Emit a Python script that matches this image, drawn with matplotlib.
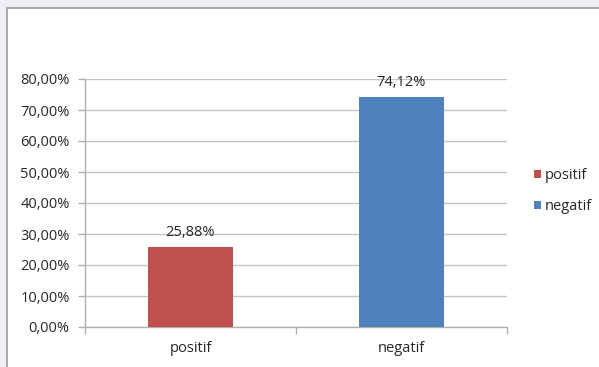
import matplotlib
matplotlib.use('Agg')
import matplotlib.pyplot as plt
from matplotlib.patches import Rectangle

matplotlib.rcParams['font.family'] = 'Open Sans'
matplotlib.rcParams['font.size'] = 10.5

categories = ['positif', 'negatif']
values = [0.2588, 0.7412]
value_labels = ['25,88%', '74,12%']
colors = ['#C0504D', '#4F81BD']
yticks = [0.0, 0.1, 0.2, 0.3, 0.4, 0.5, 0.6, 0.7, 0.8]
ytick_labels = ['0,00%', '10,00%', '20,00%', '30,00%', '40,00%',
                '50,00%', '60,00%', '70,00%', '80,00%']

W, H = 599, 367
fig = plt.figure(figsize=(W / 100, H / 100), dpi=100, facecolor='#eef0f3')

# white chart area with gray frame
fig.patches.append(Rectangle((6.5 / W, -0.05), 1.1, 1 - 7.5 / H + 0.05,
                             transform=fig.transFigure, facecolor='white',
                             edgecolor='#9a9a9a', linewidth=1.2, zorder=-5))

ax = fig.add_axes([85 / W, 1 - 327 / H, 422 / W, 248 / H])
ax.set_zorder(2)
ax.set_facecolor('none')

x = [0, 1]
bars = ax.bar(x, values, width=0.4, color=colors, zorder=3)
ax.set_xlim(-0.5, 1.5)
ax.set_ylim(0, 0.8)

ax.set_yticks(yticks)
ax.set_yticklabels(ytick_labels)
ax.set_xticks(x)
ax.set_xticklabels(categories)
ax.set_xticks([-0.5, 0.5, 1.5], minor=True)

ax.yaxis.grid(True, color='#c4c4c4', linewidth=1, zorder=0)
ax.tick_params(axis='y', length=5, width=1, color='#b0b0b0', pad=6, labelcolor='#262626')
ax.tick_params(axis='x', which='major', length=0, pad=10, labelcolor='#262626')
ax.tick_params(axis='x', which='minor', length=5, width=1, color='#b0b0b0')

for s in ['top', 'right']:
    ax.spines[s].set_visible(False)
for s in ['left', 'bottom']:
    ax.spines[s].set_color('#b0b0b0')
    ax.spines[s].set_linewidth(1)

for xi, v, lab in zip(x, values, value_labels):
    ax.annotate(lab, (xi, v), xytext=(0, 5), textcoords='offset points',
                ha='center', va='bottom', color='#262626')

leg = fig.legend(bars, categories, loc='upper left',
                 bbox_to_anchor=(528 / W, 1 - 162 / H), frameon=False,
                 handlelength=0.5, handleheight=0.5, handletextpad=0.25,
                 labelspacing=1.1, borderaxespad=0)
leg.set_zorder(3)
for t in leg.get_texts():
    t.set_color('#262626')

fig.savefig('out.png', dpi=100, facecolor=fig.get_facecolor())
